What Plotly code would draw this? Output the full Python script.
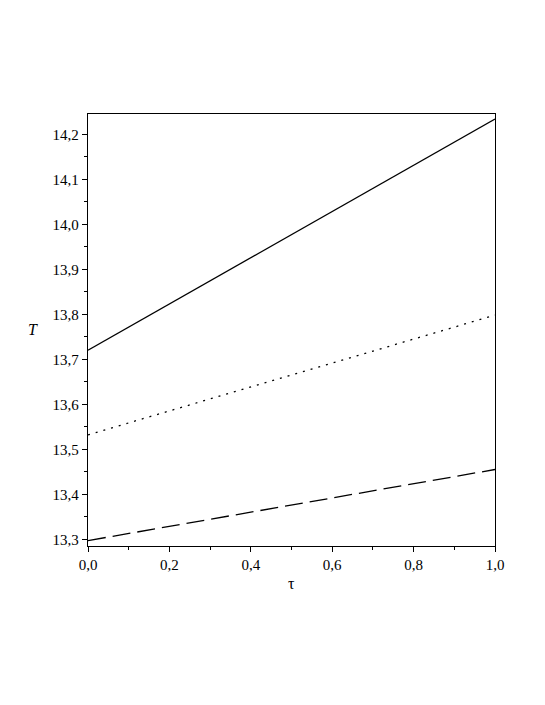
import plotly.graph_objects as go

# Data
tau = [0.0, 0.5, 1.0]
T_solid = [13.72, 13.977, 14.234]
T_dotted = [13.532, 13.665, 13.798]
T_dashed = [13.297, 13.376, 13.455]

xticks = [0.0, 0.2, 0.4, 0.6, 0.8, 1.0]
xticklabels = ["0,0", "0,2", "0,4", "0,6", "0,8", "1,0"]
yticks = [13.3, 13.4, 13.5, 13.6, 13.7, 13.8, 13.9, 14.0, 14.1, 14.2]
yticklabels = ["13,3", "13,4", "13,5", "13,6", "13,7", "13,8", "13,9", "14,0", "14,1", "14,2"]

serif = "Liberation Serif, Times New Roman, DejaVu Serif, serif"

fig = go.Figure()
fig.add_trace(go.Scatter(x=tau, y=T_solid, mode="lines",
                         line=dict(color="black", width=1.3)))
fig.add_trace(go.Scatter(x=tau, y=T_dotted, mode="lines",
                         line=dict(color="black", width=1.3, dash="2px,6px")))
fig.add_trace(go.Scatter(x=tau, y=T_dashed, mode="lines",
                         line=dict(color="black", width=1.3, dash="18px,7px")))

axis_common = dict(
    showgrid=False, zeroline=False,
    showline=True, linecolor="black", linewidth=1.3, mirror=True,
    ticks="outside", ticklen=5, tickwidth=1.2, tickcolor="black",
    tickfont=dict(family=serif, size=15, color="black"),
)

fig.update_layout(
    width=545, height=705,
    margin=dict(l=80, r=58, t=106, b=167),
    paper_bgcolor="white", plot_bgcolor="white",
    showlegend=False,
    font=dict(family=serif),
    xaxis=dict(range=[0, 1], tickvals=xticks, ticktext=xticklabels,
               minor=dict(tickvals=[0.1, 0.3, 0.5, 0.7, 0.9], ticks="outside",
                          ticklen=3, tickcolor="black", tickwidth=1),
               **axis_common),
    yaxis=dict(range=[13.285, 14.245], tickvals=yticks, ticktext=yticklabels,
               minor=dict(tickvals=[13.35, 13.45, 13.55, 13.65, 13.75, 13.85,
                                    13.95, 14.05, 14.15],
                          ticks="outside", ticklen=3, tickcolor="black", tickwidth=1),
               **axis_common),
)

# Axis labels
fig.add_annotation(text="<i>T</i>", xref="paper", yref="paper", x=-0.135, y=0.502,
                   showarrow=False, xanchor="center", yanchor="middle",
                   font=dict(family=serif, size=16, color="black"))
fig.add_annotation(text="τ", xref="paper", yref="paper", x=0.5, y=-0.086,
                   showarrow=False, xanchor="center", yanchor="middle",
                   font=dict(family=serif, size=16, color="black"))

fig.write_html("out.html")
